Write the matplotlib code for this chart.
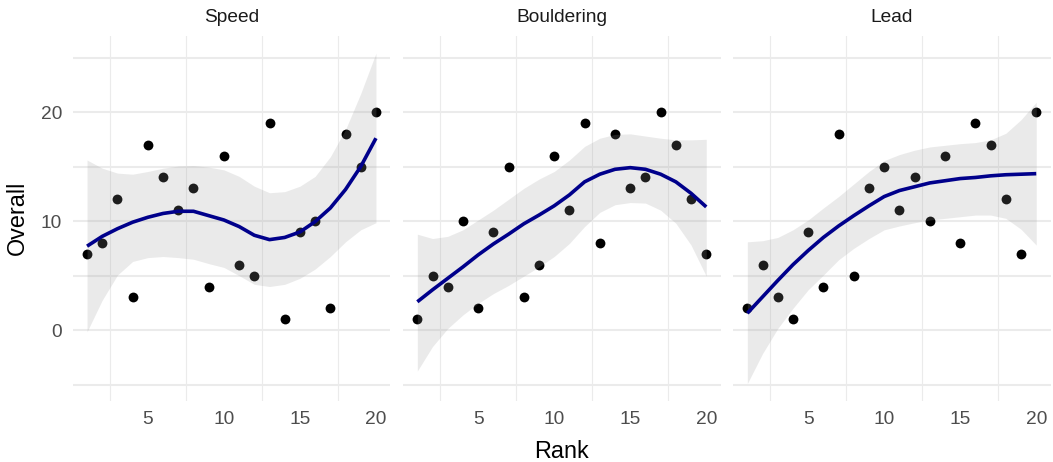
import matplotlib
matplotlib.use('Agg')
import matplotlib.pyplot as plt
import numpy as np

plt.rcParams['font.family'] = ['Liberation Sans', 'DejaVu Sans']

rank = list(range(1, 21))
disciplines = ['Speed', 'Bouldering', 'Lead']

# overall position of each climber, ordered by rank in the discipline
overall_speed = [7, 8, 12, 3, 17, 14, 11, 13, 4, 16, 6, 5, 19, 1, 9, 10, 2, 18, 15, 20]
overall_boulder = [1, 5, 4, 10, 2, 9, 15, 3, 6, 16, 11, 19, 8, 18, 13, 14, 20, 17, 12, 7]
overall_lead = [2, 6, 3, 1, 9, 4, 18, 5, 13, 15, 11, 14, 10, 16, 8, 19, 17, 12, 7, 20]

# loess fit and 95% band at each rank
fit_speed = [7.7, 8.6, 9.3, 9.9, 10.35, 10.7, 10.9, 10.9, 10.5, 10.1,
             9.5, 8.7, 8.3, 8.5, 9.0, 9.95, 11.2, 12.9, 15.0, 17.6]
hi_speed = [15.6, 14.85, 14.4, 14.3, 14.55, 14.85, 15.05, 15.1, 14.95, 14.7,
            14.1, 13.2, 12.6, 12.7, 13.2, 14.1, 15.9, 18.4, 21.7, 25.4]
lo_speed = [-0.15, 2.75, 5.05, 6.3, 6.65, 6.75, 6.65, 6.5, 6.1, 5.75,
            5.0, 4.2, 4.0, 4.2, 4.75, 5.6, 6.75, 8.1, 9.2, 9.85]

fit_boulder = [2.6, 3.7, 4.75, 5.8, 6.9, 7.9, 8.8, 9.75, 10.55, 11.4,
               12.4, 13.6, 14.3, 14.75, 14.9, 14.75, 14.3, 13.6, 12.55, 11.3]
hi_boulder = [8.8, 8.4, 8.6, 9.2, 10.1, 11.0, 12.0, 13.0, 13.85, 14.55,
              15.6, 16.85, 17.6, 17.95, 18.0, 17.8, 17.6, 17.45, 17.45, 17.5]
lo_boulder = [-3.75, -1.5, 0.15, 1.4, 2.45, 3.35, 4.1, 4.95, 5.8, 6.75,
              7.95, 9.5, 10.8, 11.5, 11.7, 11.65, 11.0, 9.8, 7.8, 4.95]

fit_lead = [1.55, 3.05, 4.55, 6.0, 7.3, 8.5, 9.55, 10.5, 11.4, 12.25,
            12.8, 13.15, 13.5, 13.7, 13.9, 14.0, 14.15, 14.25, 14.3, 14.35]
hi_lead = [8.1, 8.2, 8.5, 9.2, 10.1, 11.2, 12.25, 13.4, 14.55, 15.55,
           16.1, 16.5, 16.8, 16.95, 17.1, 17.2, 17.45, 18.05, 19.3, 20.9]
lo_lead = [-4.9, -2.15, 0.15, 2.0, 3.7, 5.05, 6.45, 7.5, 8.4, 9.2,
           9.55, 9.85, 10.1, 10.25, 10.4, 10.55, 10.55, 10.25, 9.25, 7.8]

points = [overall_speed, overall_boulder, overall_lead]
fits = [fit_speed, fit_boulder, fit_lead]
his = [hi_speed, hi_boulder, hi_lead]
los = [lo_speed, lo_boulder, lo_lead]

fig = plt.figure(figsize=(10.53, 4.62), dpi=100)
lefts = [0.06895, 0.38262, 0.69601]

for i in range(3):
    ax = fig.add_axes([lefts[i], 0.132, 0.3018, 0.79])
    for y in [-5, 0, 5, 10, 15, 20, 25]:
        ax.axhline(y, color='#EBEBEB', lw=1.5, zorder=0)
    for x in [2.5, 7.5, 12.5, 17.5]:
        ax.axvline(x, color='#EBEBEB', lw=0.8, zorder=0)

    ax.scatter(rank, points[i], s=50, color='black', lw=0, zorder=2)
    ax.fill_between(rank, los[i], his[i], color='#999999', alpha=0.2, lw=0, zorder=3)
    ax.plot(rank, fits[i], color='#00008B', lw=2.6, zorder=4, solid_capstyle='butt')

    ax.set_xlim(0.05, 20.95)
    ax.set_ylim(-6.5, 26.97)
    ax.set_xticks([5, 10, 15, 20])
    ax.set_yticks([0, 10, 20])
    ax.tick_params(length=0, labelsize=13.8, labelcolor='#4D4D4D', pad=7.5)
    if i > 0:
        ax.set_yticklabels([])
    for s in ax.spines.values():
        s.set_visible(False)

    fig.text(lefts[i] + 0.3018 / 2, 1 - 22 / 462, disciplines[i], ha='center',
             va='baseline', fontsize=13.8, color='#1A1A1A')

fig.text(0.5333, 1 - 458 / 462, 'Rank', ha='center', va='baseline', fontsize=16.8)
fig.text(17.5 / 1053, 1 - 218 / 462, 'Overall', ha='center', va='center',
         rotation=90, fontsize=16.8)

plt.savefig('out.png', dpi=100)
